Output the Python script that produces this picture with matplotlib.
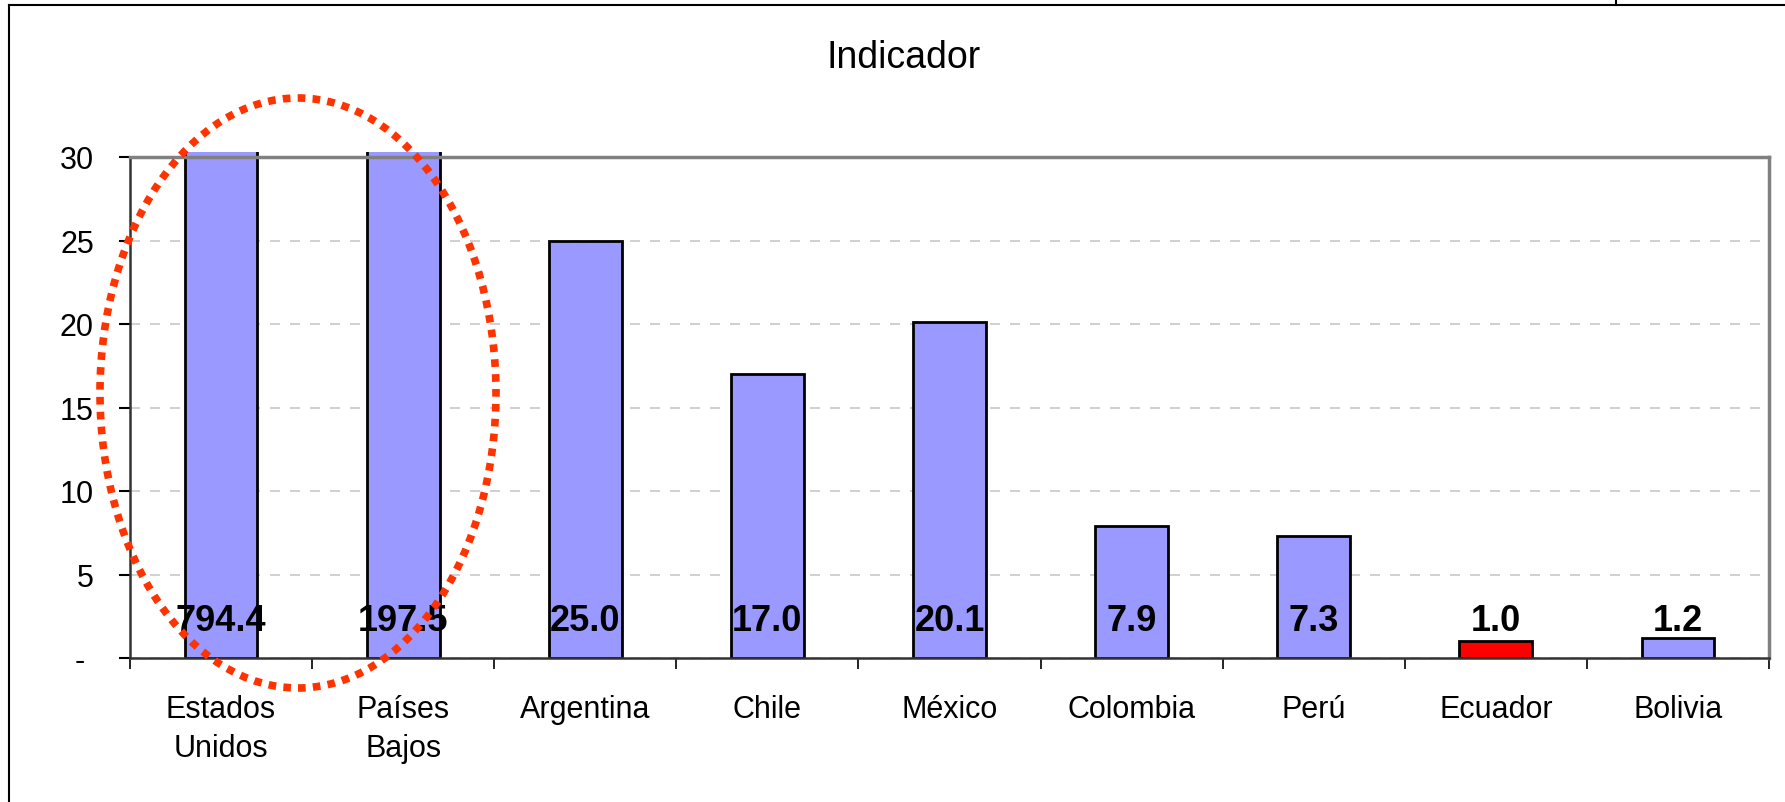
import matplotlib
matplotlib.use("Agg")
import matplotlib.pyplot as plt
import numpy as np
from matplotlib.patches import Ellipse, Rectangle
from matplotlib.lines import Line2D

plt.rcParams['font.family'] = ['Liberation Sans', 'DejaVu Sans']

# data
paises = ['Estados\nUnidos', 'Países\nBajos', 'Argentina', 'Chile', 'México',
          'Colombia', 'Perú', 'Ecuador', 'Bolivia']
indicador = [794.4, 197.5, 25.0, 17.0, 20.1, 7.9, 7.3, 1.0, 1.2]
resaltado = 'Ecuador'
y_ticks = [0, 5, 10, 15, 20, 25, 30]
y_labels = ['- ', '5', '10', '15', '20', '25', '30']

W, H = 1785, 803
fig = plt.figure(figsize=(W / 100, H / 100), dpi=100)
ax = fig.add_axes([130 / W, 1 - 659 / H, (1769 - 130) / W, (659 - 158) / H])

x = np.arange(len(paises))
colores = ['#FF0000' if p == resaltado else '#9999FF' for p in paises]
bars = ax.bar(x, indicador, width=0.4, color=colores, edgecolor='black', linewidth=2, zorder=2)

# tall bars poke a few pixels above the plot area, like the original
clip = Rectangle((0, 0), 1, 1 + 5 / 501, transform=ax.transAxes)
for b in bars:
    b.set_clip_path(clip)

ax.set_xlim(-0.5, len(paises) - 0.5)
ax.set_ylim(0, 30)

# value labels sit at a fixed height near the base
for i, v in enumerate(indicador):
    ax.text(i, 1.7, f'{v:.1f}', ha='center', va='baseline', fontsize=26,
            fontweight='bold', zorder=3)

ax.set_yticks(y_ticks)
ax.set_yticklabels(y_labels, fontsize=22)
ax.tick_params(axis='y', direction='out', length=8, width=1.5, pad=18)

ax.set_xticks(np.arange(-0.5, len(paises)), labels=[])
ax.set_xticks(x, labels=paises, minor=True)
ax.tick_params(axis='x', which='major', direction='out', length=8, width=1.2)
ax.tick_params(axis='x', which='minor', length=0, pad=26, labelsize=22)
for t in ax.get_xticklabels(minor=True):
    t.set_linespacing(1.4)

ax.yaxis.grid(True, linestyle=(0, (6, 6)), color='#c8c8c8', linewidth=1.2)
ax.set_axisbelow(True)

for s in ['left', 'bottom']:
    ax.spines[s].set_color('#333333')
    ax.spines[s].set_linewidth(1.8)
for s in ['top', 'right']:
    ax.spines[s].set_color('#808080')
    ax.spines[s].set_linewidth(2.5)

fig.text(904 / W, 1 - 68 / H, 'Indicador', ha='center', va='baseline', fontsize=27)

# dotted highlight ellipse around the two outliers
fig.add_artist(Ellipse((298 / W, 1 - 394 / H), width=396 / W, height=590 / H,
                       transform=fig.transFigure, fill=False, edgecolor='#FF3300',
                       linewidth=5.5, linestyle=(0, (1, 0.95)), zorder=5))

# outer chart frame
fig.add_artist(Line2D([9 / W, 9 / W], [0, 1 - 6 / H], transform=fig.transFigure,
                      color='black', lw=1.5))
fig.add_artist(Line2D([9 / W, 1], [1 - 6 / H, 1 - 6 / H], transform=fig.transFigure,
                      color='black', lw=1.5))
fig.add_artist(Line2D([1616 / W, 1616 / W], [1 - 6 / H, 1], transform=fig.transFigure,
                      color='black', lw=1.5))

fig.savefig('out.png', dpi=100)
